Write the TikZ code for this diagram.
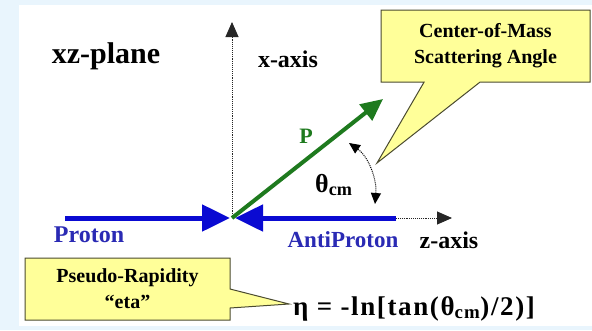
\documentclass[tikz,border=0pt]{standalone}
\usepackage{fontspec}
\setmainfont{Liberation Serif}
\usetikzlibrary{arrows.meta, positioning, shapes.callouts}
\definecolor{Backdrop}{HTML}{E9F5FD}
\definecolor{Beam}{HTML}{0A0AD2}
\definecolor{BeamText}{HTML}{2A2AB4}
\definecolor{Momentum}{HTML}{1E7A1E}
\definecolor{Note}{HTML}{FFFF99}
\definecolor{NoteEdge}{HTML}{4A4A30}

\begin{document}
\begin{tikzpicture}[
    x=1pt, y=-1pt,
    lbl/.style={inner sep=0pt, anchor=base, font=\fontsize{24}{28}\selectfont\bfseries},
    beam/.style={-{Triangle[length=28pt, width=26pt]}, line width=5pt, Beam},
    axisline/.style={-{Triangle[length=15pt, width=13pt]}, densely dotted, line width=0.9pt, black!85},
    note/.style={
        rectangle callout, draw=NoteEdge, fill=Note, line width=1pt,
        align=center, inner sep=0pt, font=\fontsize{20}{26}\selectfont\bfseries
    }
]

% =============================================
% PANEL
% =============================================
\fill[Backdrop] (0,0) rectangle (592,330);
\fill[white] (19,5) rectangle (592,326);
\useasboundingbox (0,0) rectangle (592,330);

\node[lbl, font=\fontsize{30}{34}\selectfont\bfseries] (plane) at (106,63) {xz-plane};

% =============================================
% AXES
% =============================================
\coordinate (origin) at (232,218);
\coordinate (xtip) at (232,22);
\coordinate (apstart) at (396,218);
\coordinate (ztip) at (452,218);

\draw[axisline] (origin) -- (xtip);
\draw[axisline] (apstart) -- (ztip);

\node[lbl] (xlabel) at (288,67) {x-axis};
\node[lbl] (zlabel) at (449,248) {z-axis};

% =============================================
% BEAMS: Proton -> origin <- AntiProton
% =============================================
\coordinate (pstart) at (65,218);

\draw[beam] (pstart) -- ([xshift=-2pt]origin);
\draw[beam] (apstart) -- ([xshift=3pt]origin);

\node[lbl, text=BeamText] (proton) at (89,242) {Proton};
\node[lbl, text=BeamText, font=\fontsize{23}{27}\selectfont\bfseries] (antiproton) at (343,247) {AntiProton};

% scattered momentum
\coordinate (ptip) at (383,99);
\draw[-{Triangle[length=22pt, width=20pt]}, line width=4pt, Momentum] (origin) -- (ptip);
\node[lbl, text=Momentum, font=\fontsize{22}{26}\selectfont\bfseries] (plabel) at (306,143) {P};

% =============================================
% ANGLE
% =============================================
\coordinate (thlow) at (375,204);
\coordinate (thhigh) at (349,143);
\draw[{Triangle[length=11pt, width=10pt]}-{Triangle[length=11pt, width=10pt]}, densely dotted, line width=1pt]
    (thlow) .. controls (377,180) and (369,157) .. (thhigh);
\node[lbl, anchor=base west, font=\fontsize{26}{30}\selectfont\bfseries] (theta) at (315,192) {θ\textsubscript{cm}};

% =============================================
% NOTES
% =============================================
\coordinate (angletip) at (377,163);
\node[note, minimum width=209pt, minimum height=72pt,
    callout absolute pointer={(angletip)}, callout pointer width=56pt]
    (cmnote) at (485.5,46) {Center-of-Mass\\Scattering Angle};

\coordinate (etatip) at (289,304);
\node[note, minimum width=205pt, minimum height=62pt,
    callout absolute pointer={(etatip)}, callout pointer width=19pt]
    (etanote) at (127.5,289) {Pseudo-Rapidity\\“eta”};

\node[lbl, font=\fontsize{27}{31}\selectfont\bfseries\addfontfeatures{LetterSpace=6}] (etaformula) at (414,315) {η = -ln[tan(θ\textsubscript{cm})/2)]};

\end{tikzpicture}
\end{document}
